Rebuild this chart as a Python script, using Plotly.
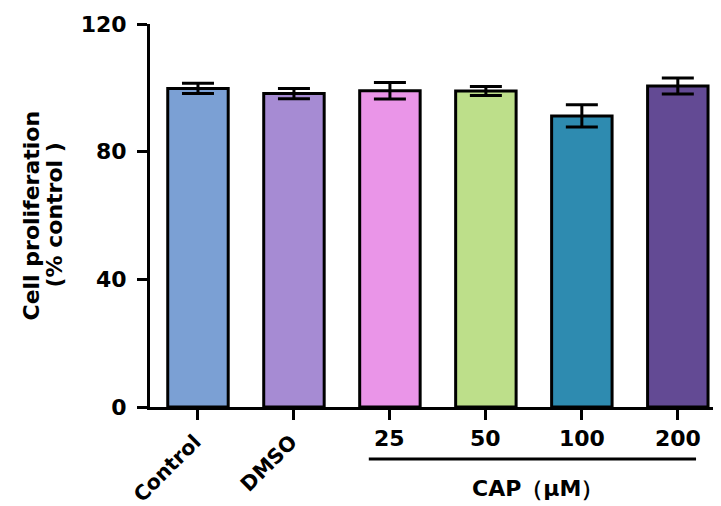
import plotly.graph_objects as go

categories = ["Control", "DMSO", "25", "50", "100", "200"]
values = [99.8, 98.2, 99.1, 99.0, 91.2, 100.6]
errors = [1.6, 1.6, 2.6, 1.4, 3.5, 2.5]
colors = ["#7BA0D4", "#A68BD3", "#EA95E8", "#BDDF8A", "#2E8BB0", "#634A94"]
y_ticks = [0, 40, 80, 120]
rotated_labels = ["Control", "DMSO"]
dose_labels = ["25", "50", "100", "200"]
group_label = "CAP（μM）"
y_title_lines = ["Cell proliferation", "(% control )"]

FONT = "DejaVu Sans"
PAGE_OFFSET = 8  # default body margin of the html page

fig = go.Figure()
fig.add_trace(go.Bar(
    x=categories, y=values,
    marker=dict(color=colors, line=dict(color="black", width=3)),
    width=0.63,
    error_y=dict(type="data", array=errors, visible=True, color="black",
                 thickness=3, width=16),
    showlegend=False,
))

annotations = []
for lab in rotated_labels:
    annotations.append(dict(
        x=categories.index(lab), y=0, xref="x", yref="y", text=lab,
        showarrow=False, textangle=-45, xanchor="right", yanchor="top",
        xshift=11, yshift=-20,
        font=dict(family=FONT, size=20.5, color="black", weight="bold"),
    ))
for lab in dose_labels:
    annotations.append(dict(
        x=categories.index(lab), y=0, xref="x", yref="y", text=lab,
        showarrow=False, xanchor="center", yanchor="middle", yshift=-31,
        font=dict(family=FONT, size=22, color="black", weight="bold"),
    ))
i0 = categories.index(dose_labels[0])
i1 = categories.index(dose_labels[-1])
annotations.append(dict(
    x=(i0 + i1) / 2 + 0.04, y=0, xref="x", yref="y", text=group_label,
    showarrow=False, xanchor="center", yanchor="middle", yshift=-81,
    font=dict(family=FONT, size=22, color="black", weight="bold"),
))
for k, line in enumerate(y_title_lines):
    annotations.append(dict(
        x=0, y=0.5, xref="paper", yref="paper", text=line, showarrow=False,
        textangle=-90, xanchor="center", yanchor="middle",
        xshift=-119 + 23 * k,
        font=dict(family=FONT, size=22, color="black", weight="bold"),
    ))

plot_h = 506 - 24 - 99
fig.add_shape(type="line", xref="x", yref="paper",
              x0=i0 - 0.22, x1=i1 + 0.19, y0=-52 / plot_h, y1=-52 / plot_h,
              line=dict(color="black", width=3))

fig.update_layout(
    width=721 - PAGE_OFFSET, height=506 - PAGE_OFFSET,
    margin=dict(l=150 - PAGE_OFFSET, r=0, t=24 - PAGE_OFFSET, b=99),
    plot_bgcolor="white", paper_bgcolor="white",
    annotations=annotations,
    xaxis=dict(
        range=[-0.5, 5.45], showline=True, linecolor="black", linewidth=3,
        ticks="outside", ticklen=10, tickwidth=3, tickcolor="black",
        showticklabels=False, showgrid=False, zeroline=False,
        categoryorder="array", categoryarray=categories,
    ),
    yaxis=dict(
        range=[0, 120], tickvals=y_ticks, showline=True, linecolor="black",
        linewidth=3, ticks="outside", ticklen=10, tickwidth=3,
        tickcolor="black", showgrid=False, zeroline=False,
        ticklabelstandoff=6,
        tickfont=dict(family=FONT, size=22, color="black", weight="bold"),
    ),
)

fig.write_html("out.html")
